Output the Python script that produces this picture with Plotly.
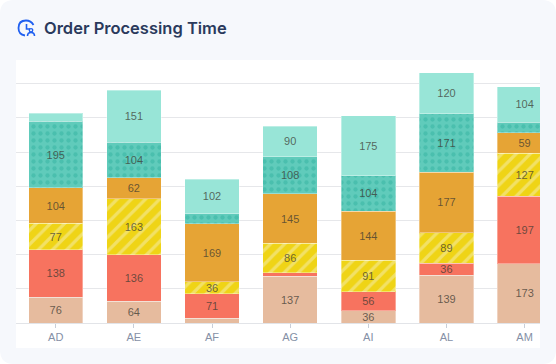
import plotly.graph_objects as go

categories = ["AD", "AE", "AF", "AG", "AI", "AL", "AM"]
peach = [76, 64, 14, 137, 36, 139, 173]
red = [138, 136, 71, 10, 56, 36, 197]
yellow = [77, 163, 36, 86, 91, 89, 127]
orange = [104, 62, 169, 145, 144, 177, 59]
teal_dots = [195, 104, 29, 108, 104, 171, 31]
teal_light = [23, 151, 102, 90, 175, 120, 104]
grid_values = [0, 100, 200, 300, 400, 500, 600, 700]

W, H = 556, 364
L, R, T, B = 16, 540, 60, 323


def px(x):
    return (x - L) / (R - L)


def py(y):
    return (B - y) / (B - T)


def path(cmds):
    out = []
    for c in cmds:
        if isinstance(c, str):
            out.append(c)
        else:
            out.append(f"{px(c[0]):.5f},{py(c[1]):.5f}")
    return " ".join(out)


r = 14
card = path(["M", (r, 0), "L", (W - r, 0), "Q", (W, 0), (W, r), "L", (W, H - r), "Q", (W, H), (W - r, H),
             "L", (r, H), "Q", (0, H), (0, H - r), "L", (0, r), "Q", (0, 0), (r, 0), "Z"])
panel = path(["M", (16, 60), "L", (540, 60), "L", (540, 348), "L", (16, 348), "Z"])
BLUE = "#2060f0"
icon_arc = path(["M", (33.5, 25), "Q", (31, 20.5), (26, 20.5), "Q", (18.5, 20.5), (18.5, 28), "Q", (18.5, 34.5), (25, 35.5)])
icon_hand = path(["M", (26.5, 24), "L", (26.5, 29), "L", (30, 29)])
icon_body = path(["M", (27.5, 36), "Q", (27.5, 32.5), (31, 32.5), "Q", (34.5, 32.5), (34.5, 36)])

series = [
    ("Peach", peach, "#e6bb9e", None, None),
    ("Red", red, "#f7735f", None, None),
    ("Yellow", yellow, "#efd416", "/", "#f2e166"),
    ("Orange", orange, "#e6a435", None, None),
    ("Teal dots", teal_dots, "#60cbbb", ".", "#4abfae"),
    ("Teal", teal_light, "#98e5d7", None, None),
]

fig = go.Figure()
for name, vals, color, shape, fg in series:
    marker = dict(color=color, line=dict(color="rgba(255,255,255,0.35)", width=1))
    if shape:
        marker["pattern"] = dict(shape=shape, fgcolor=fg, bgcolor=color, size=10 if shape == "/" else 7,
                                 solidity=0.32 if shape == "/" else 0.3, fillmode="replace")
    fig.add_bar(
        name=name, x=categories, y=vals, marker=marker,
        text=[str(v) if v >= 36 else "" for v in vals],
        textposition="inside", insidetextanchor="middle", textangle=0, constraintext="none",
        textfont=dict(family="Liberation Sans", size=11, color="rgba(60,58,50,0.75)"),
        hoverinfo="x+y+name",
    )

fig.update_layout(
    width=W, height=H, barmode="stack", bargap=0.304, showlegend=False,
    paper_bgcolor="white", plot_bgcolor="rgba(0,0,0,0)",
    margin=dict(l=L, r=W - R, t=T, b=H - B, pad=0, autoexpand=False),
    title=dict(text="Order Processing Time", x=44 / W, y=1 - 28.5 / H, xanchor="left", yanchor="middle",
               xref="container", yref="container",
               font=dict(family="Inter", size=16.5, weight=600, color="#2a3a5c")),
    xaxis=dict(type="category", range=[-0.508, 6.197], showgrid=False, ticks="outside", ticklen=4, tickwidth=1,
               tickcolor="#c8ced8", showline=True, linecolor="#e2e4e8", linewidth=1.3,
               tickfont=dict(family="Liberation Sans", size=11, color="#8590a6")),
    yaxis=dict(range=[0, 769], tickvals=grid_values, showticklabels=False, showgrid=True, gridcolor="#e6e7ea",
               gridwidth=1.3, zeroline=False, showline=False),
    shapes=[
        dict(type="path", xref="paper", yref="paper", path=card, fillcolor="#f6f8fc", line_width=0, layer="below"),
        dict(type="path", xref="paper", yref="paper", path=panel, fillcolor="white", line_width=0, layer="below"),
        dict(type="path", xref="paper", yref="paper", path=icon_arc, line=dict(color=BLUE, width=1.8), layer="above"),
        dict(type="path", xref="paper", yref="paper", path=icon_hand, line=dict(color=BLUE, width=1.6), layer="above"),
        dict(type="path", xref="paper", yref="paper", path=icon_body, line=dict(color=BLUE, width=1.6), layer="above"),
        dict(type="circle", xref="paper", yref="paper", x0=px(29.3), x1=px(32.7), y0=py(32), y1=py(28.6),
             line=dict(color=BLUE, width=1.4), layer="above"),
    ],
)
fig.write_html("out.html", config={"displayModeBar": False},
               post_script="document.body.style.margin='0';document.documentElement.style.overflow='hidden';")
